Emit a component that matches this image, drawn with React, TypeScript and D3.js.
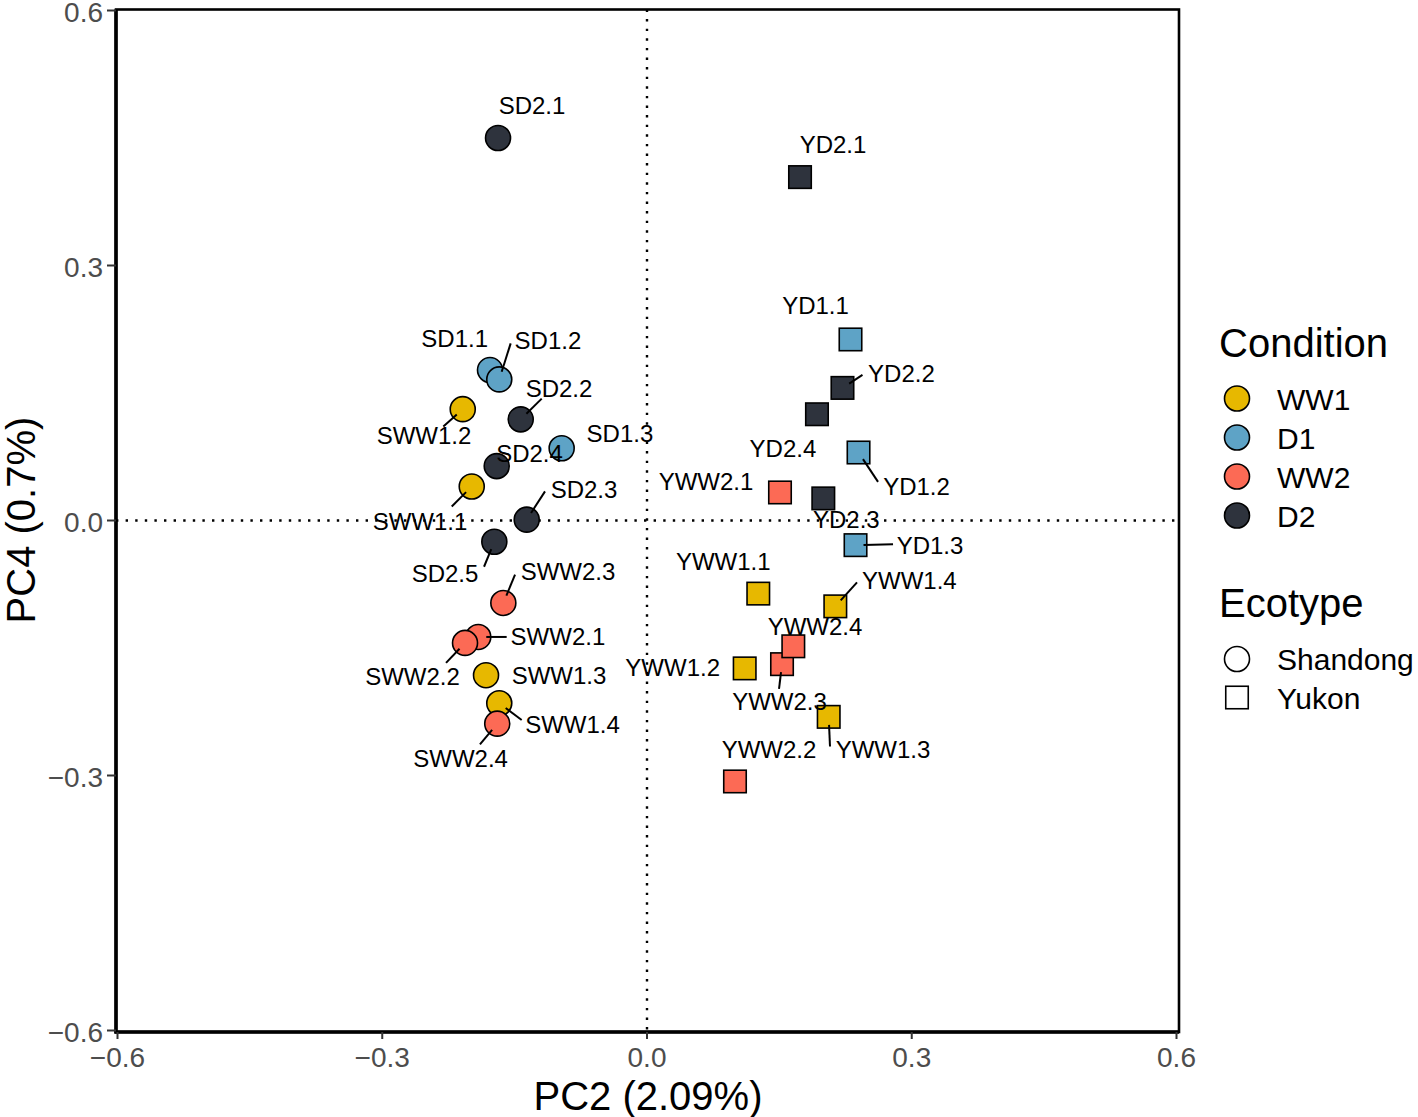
import React from "react";
import * as d3 from "d3";

// ---------- data ----------
const sampleNames = [
  "SWW1.1", "SWW1.2", "SWW1.3", "SWW1.4",
  "SD1.1", "SD1.2", "SD1.3",
  "SWW2.1", "SWW2.2", "SWW2.3", "SWW2.4",
  "SD2.1", "SD2.2", "SD2.3", "SD2.4", "SD2.5",
  "YWW1.1", "YWW1.2", "YWW1.3", "YWW1.4",
  "YD1.1", "YD1.2", "YD1.3",
  "YWW2.1", "YWW2.2", "YWW2.3", "YWW2.4",
  "YD2.1", "YD2.2", "YD2.3", "YD2.4",
];
const pc2Values = [
  -0.1986, -0.2088, -0.1824, -0.1674,
  -0.1779, -0.1674, -0.0967,
  -0.1912, -0.2062, -0.1628, -0.1697,
  -0.1688, -0.1431, -0.1363, -0.1703, -0.1730,
  0.1261, 0.1107, 0.2059, 0.2134,
  0.2306, 0.2397, 0.2363,
  0.1507, 0.0997, 0.1530, 0.1658,
  0.1734, 0.2215, 0.1998, 0.1926,
];
const pc4Values = [
  0.040, 0.131, -0.182, -0.215,
  0.177, 0.166, 0.085,
  -0.137, -0.144, -0.097, -0.239,
  0.450, 0.119, 0.001, 0.064, -0.025,
  -0.086, -0.174, -0.231, -0.101,
  0.213, 0.080, -0.029,
  0.033, -0.307, -0.169, -0.148,
  0.404, 0.156, 0.026, 0.125,
];
const conditions = [
  "WW1", "WW1", "WW1", "WW1",
  "D1", "D1", "D1",
  "WW2", "WW2", "WW2", "WW2",
  "D2", "D2", "D2", "D2", "D2",
  "WW1", "WW1", "WW1", "WW1",
  "D1", "D1", "D1",
  "WW2", "WW2", "WW2", "WW2",
  "D2", "D2", "D2", "D2",
];
const ecotypes = [
  ...Array(16).fill("Shandong"),
  ...Array(15).fill("Yukon"),
];
const conditionLevels = ["WW1", "D1", "WW2", "D2"];
const conditionColors = ["#E7B800", "#5EA3C6", "#FC6A55", "#2E333D"];
const ecotypeLevels = ["Shandong", "Yukon"];
const tickValues = [-0.6, -0.3, 0.0, 0.3, 0.6];
const xTitle = "PC2 (2.09%)";
const yTitle = "PC4 (0.7%)";

// ---------- label layout (repel result, pixel offsets from point) ----------
// [textDx, textDy, segEndDx, segEndDy] ; seg null => no segment
const labelLayout: Record<string, [number, number, number | null, number | null]> = {
  "SD2.1": [34, -33, null, null],
  "YD2.1": [33, -33, null, null],
  "YD1.1": [-35, -34, null, null],
  "YD2.2": [59, -14, 20, -13],
  "YD2.4": [-34, 34, null, null],
  "YD1.2": [58, 34, 19.5, 29.4],
  "YD2.3": [23, 21.5, null, null],
  "YD1.3": [74.5, 0, 37.5, -1],
  "YWW2.1": [-74, -11, null, null],
  "YWW1.1": [-35, -32, null, null],
  "YWW1.4": [74, -26, 21.7, -24],
  "YWW2.4": [21.7, -20, null, null],
  "YWW2.3": [-2.5, 37.4, -3, 24.7],
  "YWW1.2": [-72, -1, null, null],
  "YWW1.3": [54.3, 33, 1.3, 29.7],
  "YWW2.2": [34, -31.7, null, null],
  "SD1.1": [-35.3, -31.7, null, null],
  "SD1.2": [48.7, -39.3, 11.4, -36],
  "SD2.2": [38.3, -31, 21, -20.7],
  "SWW1.2": [-38.7, 26.4, -19.4, 17.4],
  "SD1.3": [58.3, -14.3, null, null],
  "SD2.4": [32.8, -12.4, null, null],
  "SWW1.1": [-51.7, 35, -20, 20],
  "SD2.3": [57.3, -30, 18.3, -28.3],
  "SD2.5": [-49.3, 31.3, -10.3, 25],
  "SWW2.3": [64.7, -31.6, 11.7, -28.3],
  "SWW2.1": [79.7, 0, 28.4, 0],
  "SWW2.2": [-52.5, 33.4, -19, 20],
  "SWW1.3": [73, 0, null, null],
  "SWW1.4": [73.2, 21.7, 22.4, 16.7],
  "SWW2.4": [-36.6, 35, -17.3, 20.7],
};

const FONT = "'Liberation Sans', Arial, Helvetica, sans-serif";

export default function App() {
  const W = 1418, H = 1117;
  const x = d3.scaleLinear().domain([-0.6, 0.6]).range([117.5, 1176.5]);
  const y = d3.scaleLinear().domain([-0.6, 0.6]).range([1030.5, 10.5]);
  const color = d3.scaleOrdinal<string, string>().domain(conditionLevels).range(conditionColors);
  const fmt = d3.format(".1f");

  const panel = { x0: 116, x1: 1179, y0: 9.5, y1: 1032 };
  const R = 12.5;
  const S = 22.5;

  const pts = sampleNames.map((n, i) => ({
    name: n,
    px: x(pc2Values[i]),
    py: y(pc4Values[i]),
    cond: conditions[i],
    eco: ecotypes[i],
  }));

  const marker = (eco: string, cx: number, cy: number, fill: string, key?: string) =>
    eco === "Shandong" ? (
      <circle key={key} cx={cx} cy={cy} r={R} fill={fill} stroke="#000" strokeWidth={1.6} />
    ) : (
      <rect key={key} x={cx - S / 2} y={cy - S / 2} width={S} height={S} fill={fill} stroke="#000" strokeWidth={1.6} />
    );

  return (
    <svg width={W} height={H} style={{ position: "absolute", left: 0, top: 0, background: "#fff" }} fontFamily={FONT}>
      <rect x={0} y={0} width={W} height={H} fill="#fff" />
      {/* zero lines */}
      <line x1={panel.x0} x2={panel.x1} y1={y(0)} y2={y(0)} stroke="#000" strokeWidth={2.4} strokeDasharray="2.4 7.2" />
      <line x1={x(0)} x2={x(0)} y1={panel.y0} y2={panel.y1} stroke="#000" strokeWidth={2.4} strokeDasharray="2.4 7.2" />
      {/* panel border */}
      <rect x={panel.x0} y={panel.y0} width={panel.x1 - panel.x0} height={panel.y1 - panel.y0} fill="none" stroke="#000" strokeWidth={2.6} />
      <line x1={panel.x0} x2={panel.x0} y1={panel.y0} y2={panel.y1 + 1.5} stroke="#000" strokeWidth={3.6} />
      <line x1={panel.x0 - 1.5} x2={panel.x1} y1={panel.y1} y2={panel.y1} stroke="#000" strokeWidth={3.6} />
      {/* y ticks */}
      {tickValues.map((t) => (
        <g key={"y" + t}>
          <line x1={107} x2={panel.x0} y1={y(t)} y2={y(t)} stroke="#333" strokeWidth={2} />
          <text x={103} y={y(t) + 1.5} textAnchor="end" dominantBaseline="central" fontSize={28} fill="#4D4D4D">
            {fmt(t)}
          </text>
        </g>
      ))}
      {/* x ticks */}
      {tickValues.map((t) => (
        <g key={"x" + t}>
          <line x1={x(t)} x2={x(t)} y1={panel.y1} y2={panel.y1 + 7} stroke="#333" strokeWidth={2} />
          <text x={x(t)} y={1057} textAnchor="middle" dominantBaseline="central" fontSize={28} fill="#4D4D4D">
            {fmt(t)}
          </text>
        </g>
      ))}
      {/* axis titles */}
      <text x={648} y={1096} textAnchor="middle" dominantBaseline="central" fontSize={40} fill="#000">
        {xTitle}
      </text>
      <text transform={`translate(21,520) rotate(-90)`} textAnchor="middle" dominantBaseline="central" fontSize={40} fill="#000">
        {yTitle}
      </text>
      {/* points */}
      {pts.map((p) => marker(p.eco, p.px, p.py, color(p.cond), "m" + p.name))}
      {/* segments */}
      {pts.map((p) => {
        const L = labelLayout[p.name];
        if (!L || L[2] === null || L[3] === null) return null;
        const ex = p.px + (L[2] as number), ey = p.py + (L[3] as number);
        const dx = ex - p.px, dy = ey - p.py;
        const len = Math.hypot(dx, dy);
        const st = 8;
        const sx = p.px + (dx / len) * st, sy = p.py + (dy / len) * st;
        return <line key={"s" + p.name} x1={sx} y1={sy} x2={ex} y2={ey} stroke="#000" strokeWidth={2} />;
      })}
      {/* labels */}
      {pts.map((p) => {
        const L = labelLayout[p.name];
        return (
          <text key={"t" + p.name} x={p.px + L[0]} y={p.py + L[1]} textAnchor="middle" dominantBaseline="central" fontSize={24} fill="#000">
            {p.name}
          </text>
        );
      })}
      {/* legend: Condition */}
      <text x={1219} y={343} dominantBaseline="central" fontSize={40} fill="#000">Condition</text>
      {conditionLevels.map((c, i) => (
        <g key={"lc" + c}>
          <circle cx={1237} cy={398.5 + i * 39} r={12.5} fill={color(c)} stroke="#000" strokeWidth={1.6} />
          <text x={1277} y={399 + i * 39} dominantBaseline="central" fontSize={30} fill="#000">{c}</text>
        </g>
      ))}
      {/* legend: Ecotype */}
      <text x={1219} y={603} dominantBaseline="central" fontSize={40} fill="#000">Ecotype</text>
      {ecotypeLevels.map((e, i) => (
        <g key={"le" + e}>
          {marker(e, 1237, 659 + i * 38.5, "none")}
          <text x={1277} y={659.5 + i * 38.5} dominantBaseline="central" fontSize={30} fill="#000">{e}</text>
        </g>
      ))}
    </svg>
  );
}
